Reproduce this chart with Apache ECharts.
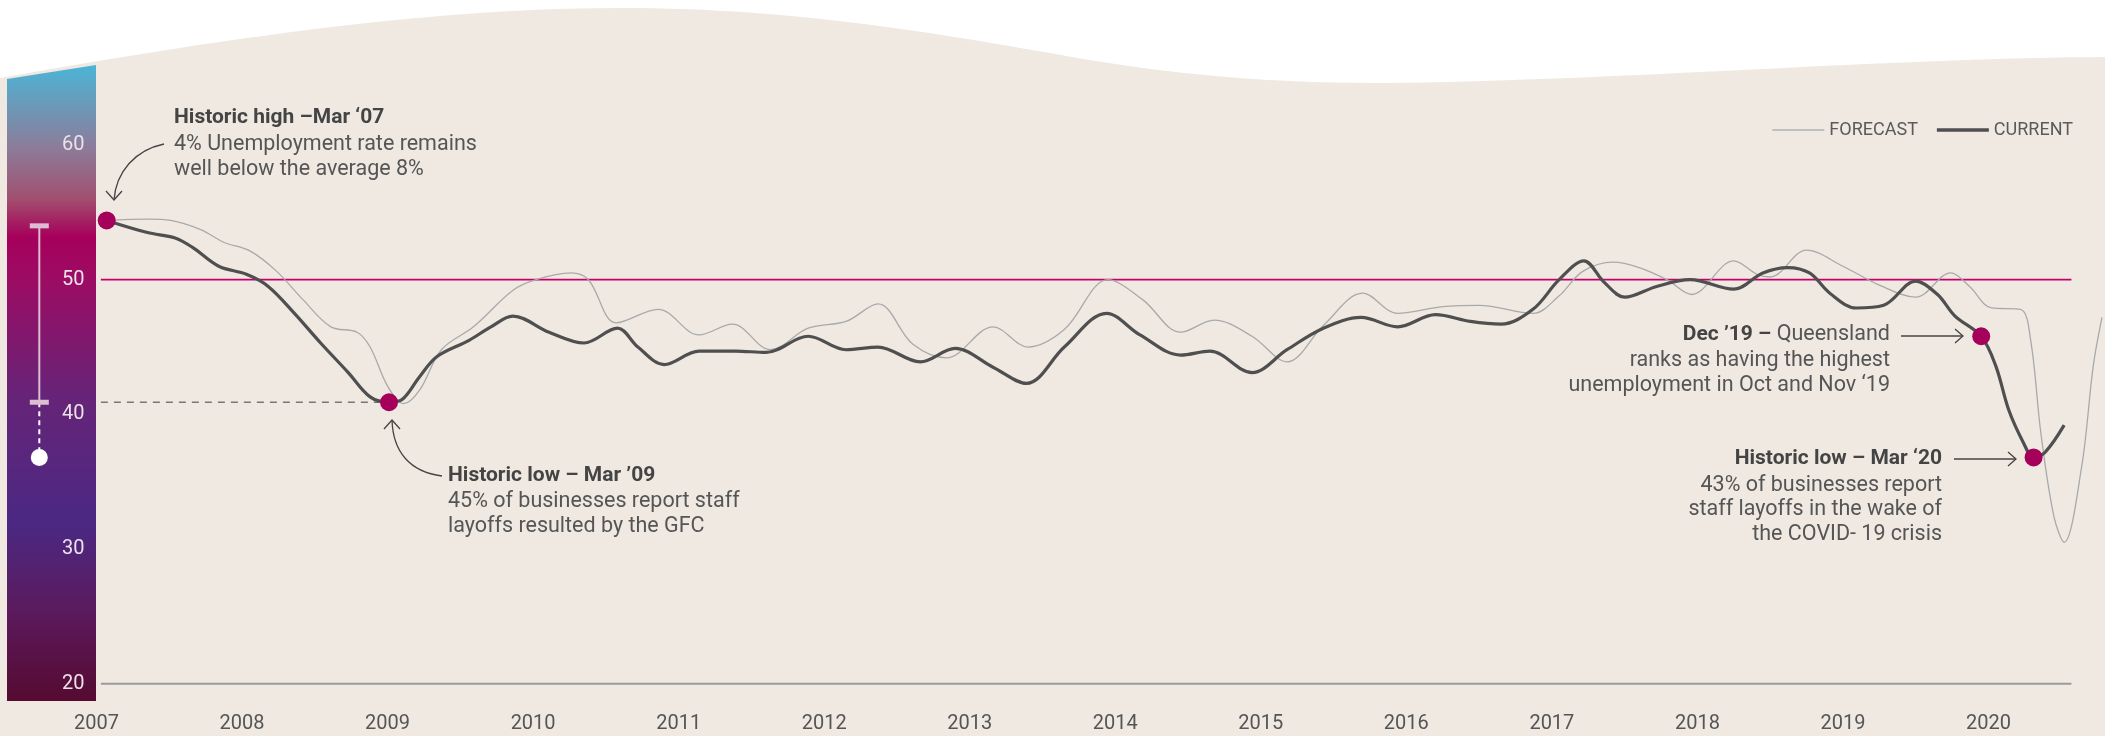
<!DOCTYPE html>
<html>
<head>
<meta charset="utf-8">
<title>Business conditions 2007-2020</title>
<script src="https://cdn.jsdelivr.net/npm/echarts@6/dist/echarts.min.js"></script>
<style>
html, body { margin: 0; padding: 0; background: #efe9e2; }
#wrap { position: relative; width: 2105px; height: 736px; }
#wave { position: absolute; left: 0; top: 0; }
#chart { position: absolute; left: 0; top: 0; width: 2105px; height: 736px; }
</style>
</head>
<body>
<div id="wrap">
  <svg id="wave" width="2105" height="736">
    <path d="M0,78 C250,34 450,6 640,8 C810,10 950,36 1050,53 C1150,72 1260,84 1390,83 C1620,80 1900,58 2105,57 L2105,0 L0,0 Z" fill="#ffffff"/>
  </svg>
  <div id="chart"></div>
</div>
<script>
// x = decimal year, y = index value
var currentYears = [2007.07, 2007.35, 2007.54, 2007.66, 2007.84, 2008.03, 2008.18, 2008.36, 2008.54, 2008.73,
  2008.88, 2009.01, 2009.10, 2009.22, 2009.34, 2009.56, 2009.71, 2009.86, 2010.11, 2010.35,
  2010.58, 2010.72, 2010.90, 2011.14, 2011.39, 2011.60, 2011.89, 2012.15, 2012.37, 2012.66,
  2012.90, 2013.16, 2013.39, 2013.65, 2013.94, 2014.17, 2014.45, 2014.65, 2014.94, 2015.18,
  2015.43, 2015.69, 2015.94, 2016.20, 2016.44, 2016.65, 2016.87, 2017.05, 2017.22, 2017.36,
  2017.50, 2017.72, 2017.95, 2018.25, 2018.45, 2018.62, 2018.77, 2018.91, 2019.09, 2019.28,
  2019.50, 2019.65, 2019.77, 2019.95, 2020.05, 2020.14, 2020.24, 2020.31, 2020.39, 2020.52];
var currentValues = [54.4, 53.5, 53.1, 52.4, 51.0, 50.4, 49.5, 47.5, 45.3, 43.1,
  41.3, 40.9, 41.1, 42.8, 44.3, 45.5, 46.5, 47.3, 46.1, 45.3,
  46.4, 45.0, 43.7, 44.7, 44.7, 44.6, 45.8, 44.8, 45.0, 43.9,
  44.9, 43.5, 42.3, 45.0, 47.5, 45.9, 44.4, 44.7, 43.1, 44.8,
  46.4, 47.2, 46.5, 47.4, 46.9, 46.7, 47.8, 50.0, 51.4, 49.8,
  48.7, 49.5, 50.0, 49.3, 50.5, 50.9, 50.5, 49.0, 47.9, 48.1,
  49.9, 48.9, 47.3, 45.8, 43.6, 40.3, 37.9, 36.8, 37.2, 39.2];

var forecastYears = [2007.07, 2007.35, 2007.51, 2007.72, 2007.87, 2008.06, 2008.24, 2008.42, 2008.61, 2008.79,
  2008.88, 2009.00, 2009.11, 2009.22, 2009.37, 2009.59, 2009.86, 2010.02, 2010.26, 2010.38,
  2010.57, 2010.86, 2011.14, 2011.37, 2011.63, 2011.89, 2012.15, 2012.37, 2012.61, 2012.84,
  2013.16, 2013.40, 2013.65, 2013.95, 2014.19, 2014.45, 2014.68, 2014.94, 2015.18, 2015.43,
  2015.70, 2015.94, 2016.25, 2016.50, 2016.87, 2017.05, 2017.21, 2017.42, 2017.60, 2017.79,
  2017.96, 2018.25, 2018.41, 2018.50, 2018.75, 2019.00, 2019.25, 2019.50, 2019.74, 2019.87,
  2020.02, 2020.22, 2020.29, 2020.36, 2020.45, 2020.52, 2020.64, 2020.72, 2020.78];
var forecastValues = [54.4, 54.5, 54.4, 53.7, 52.8, 52.1, 50.6, 48.5, 46.5, 46.1,
  45.0, 42.1, 40.8, 41.8, 44.8, 46.5, 49.2, 50.0, 50.5, 50.0,
  46.8, 47.8, 45.9, 46.7, 44.8, 46.4, 46.9, 48.2, 45.2, 44.2,
  46.5, 45.0, 46.3, 50.0, 48.5, 46.1, 47.0, 45.8, 43.9, 46.6,
  49.0, 47.5, 48.0, 48.1, 47.5, 48.8, 50.6, 51.3, 50.9, 50.0,
  48.9, 51.4, 50.4, 50.2, 52.2, 51.0, 49.6, 48.7, 50.5, 49.5,
  47.9, 47.8, 45.5, 38.6, 32.4, 30.5, 36.1, 43.6, 47.2];

// highlighted events: Mar '07, Mar '09, Dec '19, Mar '20
var eventYears = [2007.07, 2009.01, 2019.95, 2020.31];
var eventValues = [54.4, 40.9, 45.8, 36.8];

var averageLevel = 50;
var baseLevel = 20;
var refSpan = [2007.03, 2020.57];
var lowSpan = [2007.03, 2009.01];
var lowLevel = 40.9;

// range gauge in the left bar: high, previous low, current low
var gaugeValues = [54.0, 40.9, 36.8];

function pairs(xs, ys) {
  return xs.map(function (x, i) { return [x, ys[i]]; });
}

var chart = echarts.init(document.getElementById('chart'));

var FONT = 'Roboto';

function label(x, y, text, align, bold) {
  return {
    type: 'text', x: x, y: y, z: 100,
    style: {
      text: text, fill: bold ? '#444' : '#555',
      fontFamily: FONT, fontSize: bold ? 21 : 21.5, fontWeight: bold ? 'bold' : 'normal',
      align: align, verticalAlign: 'middle'
    }
  };
}
function curve(x1, y1, c1x, c1y, c2x, c2y, x2, y2) {
  return {
    type: 'bezierCurve', z: 100, silent: true,
    shape: { x1: x1, y1: y1, cpx1: c1x, cpy1: c1y, cpx2: c2x, cpy2: c2y, x2: x2, y2: y2 },
    style: { stroke: '#444', lineWidth: 1.3, fill: null }
  };
}
function poly(points) {
  return {
    type: 'polyline', z: 100, silent: true,
    shape: { points: points },
    style: { stroke: '#444', lineWidth: 1.3, fill: null }
  };
}

chart.setOption({
  animation: false,
  textStyle: { fontFamily: FONT },
  legend: {
    data: [
      { name: 'FORECAST', icon: 'path://M0,0 H52 V1.6 H0 Z' },
      { name: 'CURRENT', icon: 'path://M0,0 H52 V3.6 H0 Z' }
    ],
    right: 27,
    top: 116,
    itemWidth: 52,
    itemHeight: 14,
    itemGap: 19,
    textStyle: { fontSize: 18, color: '#5a5a5a', fontFamily: FONT }
  },
  grid: [
    { left: 96.5, right: 0, top: 77.7, bottom: 52.3 },
    { left: 7, width: 89, top: 77.7, bottom: 52.3 }
  ],
  xAxis: [
    {
      type: 'value', min: 2007, max: 2020.78, interval: 1,
      axisLine: { show: false }, axisTick: { show: false }, splitLine: { show: false },
      axisLabel: {
        margin: 30, fontSize: 20, color: '#555',
        formatter: function (v) { return v % 1 === 0 ? String(v) : ''; }
      }
    },
    { type: 'value', gridIndex: 1, min: 0, max: 1, show: false }
  ],
  yAxis: [
    {
      type: 'value', min: 20, max: 65, interval: 10,
      axisLine: { show: false }, axisTick: { show: false }, splitLine: { show: false },
      axisLabel: {
        margin: 12, fontSize: 20, color: '#ece2ea',
        formatter: function (v) { return v % 10 === 0 ? String(v) : ''; }
      }
    },
    { type: 'value', gridIndex: 1, min: 20, max: 65, show: false }
  ],
  graphic: [
    {
      type: 'polygon', z: -5, silent: true,
      shape: { points: [[7, 79], [96, 65], [96, 701], [7, 701]] },
      style: {
        fill: {
          type: 'linear', x: 0, y: 0, x2: 0, y2: 1,
          colorStops: [
            { offset: 0, color: '#4bb5d6' },
            { offset: 0.13, color: '#8c7c9a' },
            { offset: 0.21, color: '#a1506f' },
            { offset: 0.27, color: '#a6005b' },
            { offset: 0.34, color: '#9c0c64' },
            { offset: 0.52, color: '#662478' },
            { offset: 0.72, color: '#4b2883' },
            { offset: 0.86, color: '#5b1a5d' },
            { offset: 1, color: '#560a31' }
          ]
        }
      }
    },
    // Mar '07
    label(174, 118, 'Historic high –Mar ‘07', 'left', true),
    label(174, 145, '4% Unemployment rate remains', 'left', false),
    label(174, 170, 'well below the average 8%', 'left', false),
    curve(164, 144, 135, 150, 116, 172, 114, 200),
    poly([[106, 191], [114, 200], [122, 191]]),
    // Mar '09
    label(448, 476, 'Historic low – Mar ’09', 'left', true),
    label(448, 502, '45% of businesses report staff', 'left', false),
    label(448, 527, 'layoffs resulted by the GFC', 'left', false),
    curve(442, 476, 410, 472, 393, 452, 392, 420),
    poly([[384, 429], [392, 420], [400, 429]]),
    // Dec '19
    {
      type: 'text', x: 1890, y: 335, z: 100,
      style: {
        text: '{b|Dec ’19 –} Queensland', fill: '#555', fontFamily: FONT, fontSize: 21.5,
        align: 'right', verticalAlign: 'middle',
        rich: { b: { fontFamily: FONT, fontSize: 21, fontWeight: 'bold', fill: '#444' } }
      }
    },
    label(1890, 361, 'ranks as having the highest', 'right', false),
    label(1890, 386, 'unemployment in Oct and Nov ‘19', 'right', false),
    poly([[1901, 336], [1963, 336]]),
    poly([[1955, 329], [1963, 336], [1955, 343]]),
    // Mar '20
    label(1942, 459, 'Historic low – Mar ‘20', 'right', true),
    label(1942, 486, '43% of businesses report', 'right', false),
    label(1942, 510, 'staff layoffs in the wake of', 'right', false),
    label(1942, 535, 'the COVID- 19 crisis', 'right', false),
    poly([[1954, 459], [2016, 459]]),
    poly([[2008, 452], [2016, 459], [2008, 466]])
  ],
  series: [
    {
      name: 'average', type: 'line', silent: true, symbol: 'none', z: 1,
      data: [[refSpan[0], averageLevel], [refSpan[1], averageLevel]],
      lineStyle: { color: '#c4006e', width: 1.8 }
    },
    {
      name: 'base', type: 'line', silent: true, symbol: 'none', z: 1, clip: false,
      data: [[refSpan[0], baseLevel], [refSpan[1], baseLevel]],
      lineStyle: { color: '#9a9a9a', width: 2 }
    },
    {
      name: 'low09', type: 'line', silent: true, symbol: 'none', z: 1,
      data: [[lowSpan[0], lowLevel], [lowSpan[1], lowLevel]],
      lineStyle: { color: '#777', width: 1.3, type: [7, 6] }
    },
    {
      name: 'FORECAST', type: 'line', smooth: 0.35, symbol: 'none', z: 3,
      data: pairs(forecastYears, forecastValues),
      lineStyle: { color: '#a9a9a9', width: 1.3 },
      itemStyle: { color: '#b0b0b0' }
    },
    {
      name: 'CURRENT', type: 'line', smooth: 0.35, symbol: 'none', z: 4,
      data: pairs(currentYears, currentValues),
      lineStyle: { color: '#4f4f4f', width: 3.2 },
      itemStyle: { color: '#4f4f4f' }
    },
    {
      name: 'events', type: 'scatter', symbolSize: 18, z: 10,
      data: pairs(eventYears, eventValues),
      itemStyle: { color: '#a5005a', opacity: 1 }
    },
    // gauge in the colour bar
    {
      name: 'gaugeRange', type: 'line', xAxisIndex: 1, yAxisIndex: 1, symbol: 'none', silent: true, z: 5,
      data: [[0.363, gaugeValues[0]], [0.363, gaugeValues[1]]],
      lineStyle: { color: '#dcbdd1', width: 2 }
    },
    {
      name: 'gaugeNow', type: 'line', xAxisIndex: 1, yAxisIndex: 1, symbol: 'none', silent: true, z: 5,
      data: [[0.363, gaugeValues[1]], [0.363, gaugeValues[2]]],
      lineStyle: { color: '#ffffff', width: 2, type: [5, 4] }
    },
    {
      name: 'gaugeCaps', type: 'scatter', xAxisIndex: 1, yAxisIndex: 1, silent: true, z: 6,
      symbol: 'rect', symbolSize: [19, 5],
      data: [[0.363, gaugeValues[0]], [0.363, gaugeValues[1]]],
      itemStyle: { color: '#dcbdd1', opacity: 1 }
    },
    {
      name: 'gaugeDot', type: 'scatter', xAxisIndex: 1, yAxisIndex: 1, silent: true, z: 6,
      symbolSize: 17,
      data: [[0.363, gaugeValues[2]]],
      itemStyle: { color: '#ffffff', opacity: 1 }
    }
  ]
});
</script>
</body>
</html>
